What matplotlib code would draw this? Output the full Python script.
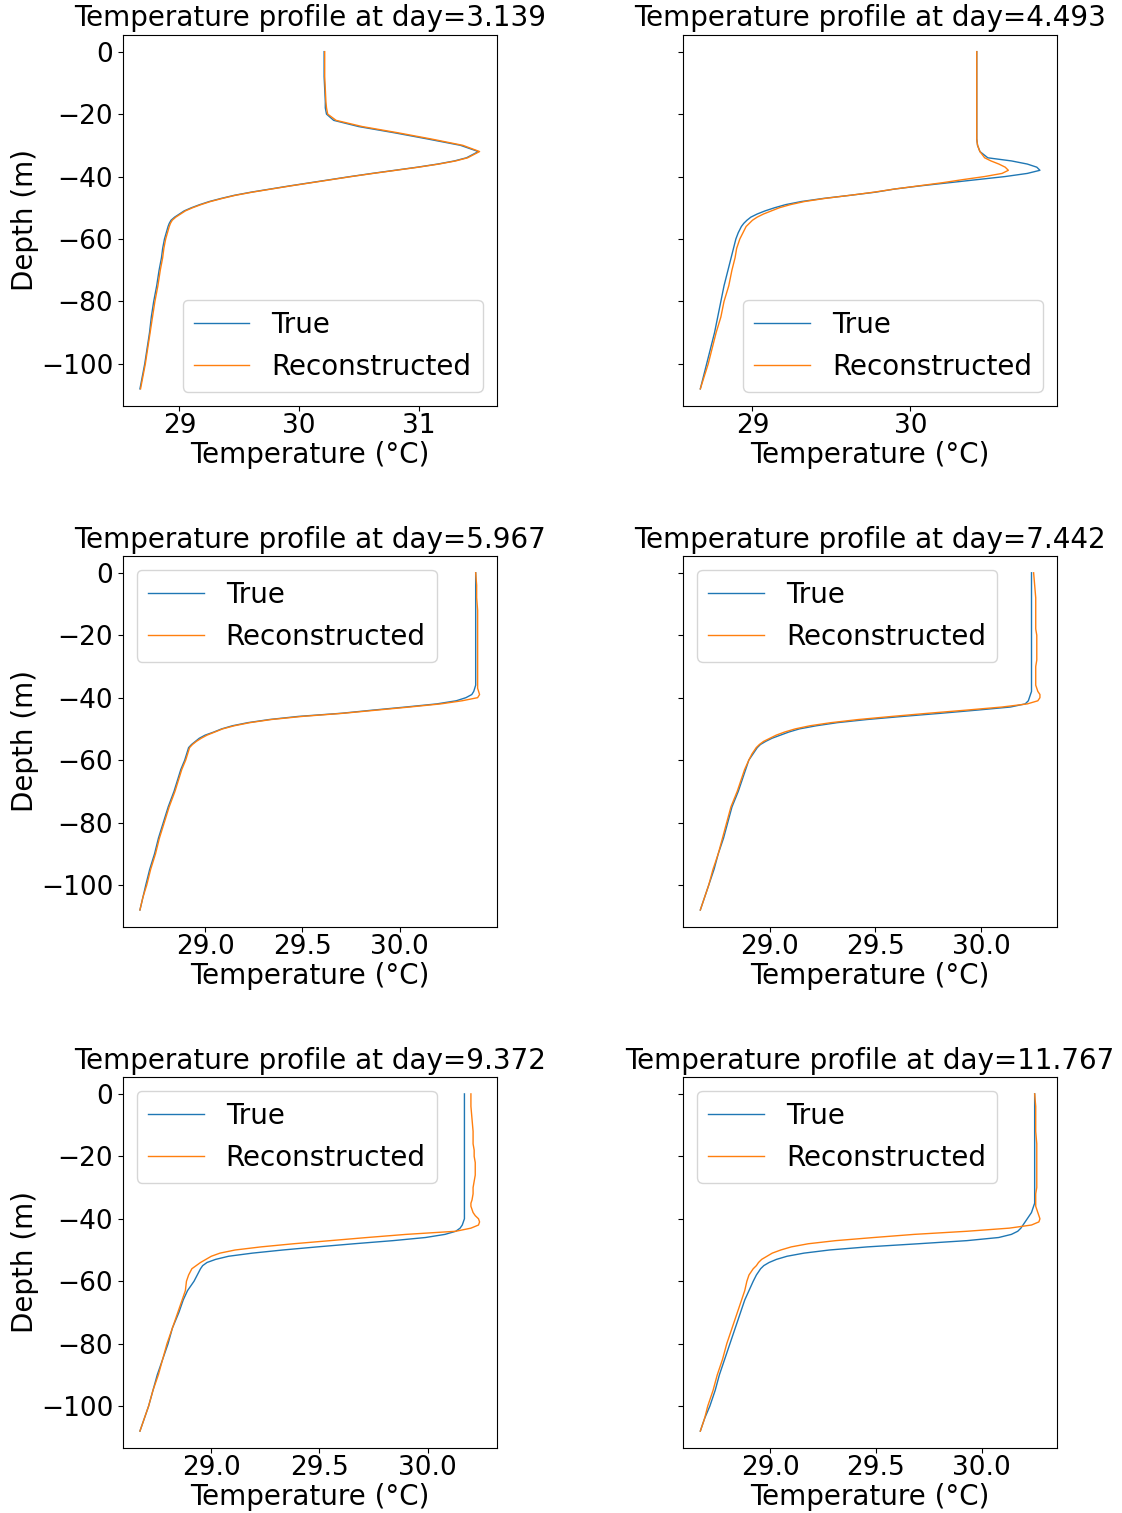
import matplotlib
matplotlib.use("Agg")
import matplotlib.pyplot as plt

plt.rcParams["font.size"] = 20
plt.rcParams["axes.titlesize"] = 20
plt.rcParams["xtick.labelsize"] = 19
plt.rcParams["ytick.labelsize"] = 19
plt.rcParams["axes.labelsize"] = 20
plt.rcParams["legend.fontsize"] = 20
plt.rcParams["xtick.major.pad"] = 1.5
plt.rcParams["axes.labelpad"] = 1.5

# Model depth levels (m, negative downward)
depth = [0, -4, -8, -12, -16, -18, -20, -22, -24, -26, -28, -30, -32, -34,
         -35, -36, -37, -38, -39, -40, -41, -42, -43, -44, -45, -46, -47, -48,
         -49, -50, -51, -52, -53, -54, -55, -56,
         -58, -60, -63, -66, -70, -75, -80, -85, -90, -95, -100, -104, -108]

days = [3.139, 4.493, 5.967, 7.442, 9.372, 11.767]

# day 3.139
true_d1 = [30.21, 30.21, 30.21, 30.215, 30.22, 30.22, 30.23, 30.29, 30.50, 30.80, 31.08, 31.35, 31.50, 31.40,
           31.30, 31.16, 30.99, 30.80, 30.61, 30.43, 30.26, 30.09, 29.92, 29.76, 29.60, 29.46, 29.35, 29.25,
           29.17, 29.10, 29.04, 29.00, 28.96, 28.93, 28.915, 28.905,
           28.89, 28.875, 28.86, 28.85, 28.83, 28.81, 28.785, 28.765, 28.75, 28.73, 28.71, 28.69, 28.67]
rec_d1 = [30.215, 30.215, 30.215, 30.22, 30.225, 30.23, 30.24, 30.31, 30.53, 30.83, 31.11, 31.37, 31.51, 31.41,
          31.31, 31.17, 31.00, 30.81, 30.62, 30.44, 30.27, 30.10, 29.93, 29.77, 29.61, 29.47, 29.36, 29.26,
          29.18, 29.11, 29.05, 29.01, 28.97, 28.94, 28.925, 28.915,
          28.90, 28.885, 28.87, 28.86, 28.84, 28.82, 28.795, 28.775, 28.755, 28.735, 28.715, 28.695, 28.675]

# day 4.493
true_d2 = [30.42, 30.42, 30.42, 30.42, 30.42, 30.42, 30.42, 30.42, 30.42, 30.42, 30.42, 30.425, 30.44, 30.49,
           30.64, 30.74, 30.80, 30.82, 30.74, 30.60, 30.42, 30.24, 30.06, 29.90, 29.78, 29.62, 29.45, 29.31,
           29.21, 29.14, 29.08, 29.03, 28.99, 28.965, 28.945, 28.93,
           28.91, 28.895, 28.88, 28.865, 28.845, 28.82, 28.80, 28.78, 28.76, 28.735, 28.71, 28.69, 28.67]
rec_d2 = [30.42, 30.42, 30.42, 30.42, 30.42, 30.42, 30.42, 30.42, 30.42, 30.42, 30.42, 30.425, 30.44, 30.47,
          30.51, 30.56, 30.60, 30.62, 30.58, 30.47, 30.33, 30.20, 30.05, 29.90, 29.77, 29.62, 29.46, 29.33,
          29.24, 29.17, 29.12, 29.07, 29.03, 29.00, 28.98, 28.96,
          28.94, 28.92, 28.90, 28.89, 28.87, 28.85, 28.82, 28.80, 28.77, 28.745, 28.72, 28.695, 28.67]

# day 5.967
true_d3 = [30.39, 30.39, 30.39, 30.39, 30.39, 30.39, 30.39, 30.39, 30.39, 30.39, 30.39, 30.39, 30.39, 30.39,
           30.39, 30.39, 30.385, 30.38, 30.37, 30.34, 30.29, 30.19, 30.03, 29.86, 29.70, 29.48, 29.33, 29.22,
           29.14, 29.085, 29.045, 29.00, 28.97, 28.95, 28.93, 28.915,
           28.905, 28.895, 28.875, 28.86, 28.84, 28.81, 28.785, 28.76, 28.74, 28.715, 28.695, 28.68, 28.665]
rec_d3 = [30.39, 30.395, 30.395, 30.40, 30.40, 30.40, 30.40, 30.40, 30.40, 30.40, 30.40, 30.40, 30.40, 30.40,
          30.40, 30.40, 30.40, 30.405, 30.41, 30.40, 30.32, 30.21, 30.05, 29.88, 29.71, 29.50, 29.34, 29.23,
          29.15, 29.09, 29.05, 29.01, 28.98, 28.955, 28.935, 28.92,
          28.91, 28.90, 28.88, 28.865, 28.845, 28.815, 28.79, 28.765, 28.745, 28.72, 28.70, 28.68, 28.665]

# day 7.442
true_d4 = [30.24, 30.24, 30.24, 30.24, 30.24, 30.24, 30.24, 30.24, 30.24, 30.24, 30.24, 30.24, 30.24, 30.24,
           30.24, 30.24, 30.24, 30.24, 30.235, 30.23, 30.225, 30.21, 30.14, 29.98, 29.81, 29.63, 29.46, 29.32,
           29.22, 29.14, 29.09, 29.05, 29.01, 28.98, 28.955, 28.94,
           28.92, 28.90, 28.885, 28.87, 28.85, 28.82, 28.80, 28.78, 28.755, 28.735, 28.71, 28.69, 28.67]
rec_d4 = [30.25, 30.255, 30.26, 30.26, 30.26, 30.26, 30.265, 30.265, 30.265, 30.265, 30.265, 30.26, 30.26, 30.26,
          30.26, 30.26, 30.265, 30.27, 30.28, 30.28, 30.27, 30.22, 30.10, 29.93, 29.75, 29.58, 29.42, 29.29,
          29.19, 29.12, 29.07, 29.03, 29.00, 28.97, 28.95, 28.935,
          28.915, 28.90, 28.88, 28.865, 28.845, 28.815, 28.795, 28.775, 28.755, 28.73, 28.71, 28.69, 28.67]

# day 9.372
true_d5 = [30.17, 30.17, 30.17, 30.17, 30.17, 30.17, 30.17, 30.17, 30.17, 30.17, 30.17, 30.17, 30.17, 30.17,
           30.17, 30.17, 30.17, 30.17, 30.17, 30.17, 30.165, 30.16, 30.15, 30.13, 30.08, 29.99, 29.84, 29.66,
           29.49, 29.33, 29.19, 29.08, 29.02, 28.98, 28.96, 28.95,
           28.935, 28.92, 28.89, 28.87, 28.85, 28.82, 28.80, 28.775, 28.75, 28.73, 28.71, 28.69, 28.67]
rec_d5 = [30.20, 30.20, 30.205, 30.21, 30.21, 30.215, 30.215, 30.22, 30.22, 30.22, 30.215, 30.21, 30.21, 30.205,
          30.20, 30.20, 30.205, 30.21, 30.22, 30.235, 30.24, 30.235, 30.20, 30.13, 29.90, 29.72, 29.55, 29.38,
          29.23, 29.11, 29.04, 29.00, 28.975, 28.95, 28.93, 28.91,
          28.895, 28.885, 28.88, 28.865, 28.845, 28.82, 28.795, 28.775, 28.755, 28.73, 28.71, 28.69, 28.67]

# day 11.767
true_d6 = [30.25, 30.25, 30.25, 30.25, 30.25, 30.25, 30.25, 30.25, 30.25, 30.25, 30.25, 30.25, 30.25, 30.25,
           30.25, 30.245, 30.24, 30.235, 30.225, 30.215, 30.205, 30.195, 30.185, 30.17, 30.14, 30.08, 29.93, 29.70,
           29.46, 29.28, 29.16, 29.08, 29.03, 28.995, 28.97, 28.955,
           28.935, 28.92, 28.90, 28.88, 28.86, 28.835, 28.81, 28.785, 28.76, 28.74, 28.715, 28.69, 28.67]
rec_d6 = [30.25, 30.255, 30.255, 30.255, 30.26, 30.26, 30.26, 30.26, 30.26, 30.26, 30.26, 30.26, 30.255, 30.255,
          30.255, 30.255, 30.26, 30.265, 30.27, 30.275, 30.27, 30.235, 30.13, 29.93, 29.68, 29.49, 29.31, 29.18,
          29.10, 29.05, 29.01, 28.985, 28.96, 28.945, 28.935, 28.92,
          28.90, 28.89, 28.88, 28.865, 28.845, 28.82, 28.795, 28.775, 28.75, 28.73, 28.705, 28.69, 28.67]

true_profiles = [true_d1, true_d2, true_d3, true_d4, true_d5, true_d6]
rec_profiles = [rec_d1, rec_d2, rec_d3, rec_d4, rec_d5, rec_d6]
legend_locs = ["lower right", "lower right", "upper left", "upper left", "upper left", "upper left"]

fig, axes = plt.subplots(3, 2, figsize=(11.22, 15.13), dpi=100, sharey=True)
fig.subplots_adjust(left=0.1096, right=0.942, top=0.977, bottom=0.043,
                    wspace=0.50, hspace=0.405)

for ax, day, t_true, t_rec, loc in zip(axes.flat, days, true_profiles, rec_profiles, legend_locs):
    ax.plot(t_true, depth, lw=1, label="True")
    ax.plot(t_rec, depth, lw=1, label="Reconstructed")
    ax.set_title(f"Temperature profile at day={day}")
    ax.set_xlabel("Temperature (°C)")
    ax.legend(loc=loc)

for ax in axes[:, 0]:
    ax.set_ylabel("Depth (m)")

fig.savefig("out.png", dpi=100)
